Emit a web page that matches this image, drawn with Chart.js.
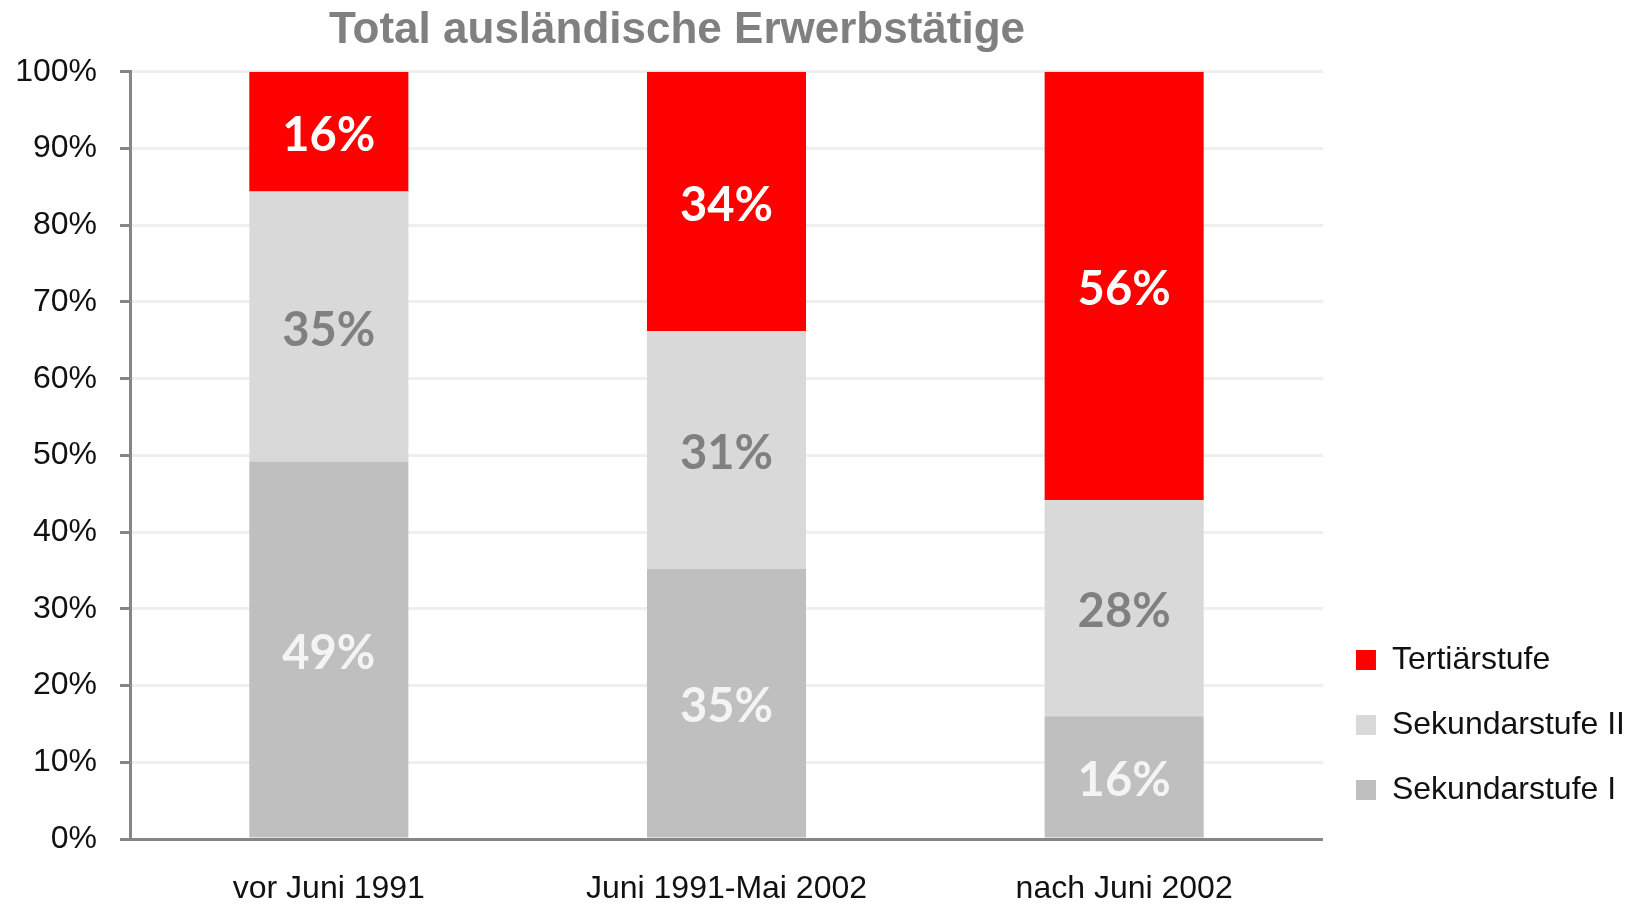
<!DOCTYPE html>
<html>
<head>
<meta charset="utf-8">
<script src="https://cdn.jsdelivr.net/npm/chart.js@4"></script>
<style>
html,body{margin:0;padding:0;background:#fff;}
#wrap{width:1633px;height:908px;}
</style>
</head>
<body>
<div id="wrap"><canvas id="c" width="1633" height="908"></canvas></div>
<script>
const categories = ['vor Juni 1991', 'Juni 1991-Mai 2002', 'nach Juni 2002'];
const sekundarstufeI = [49.2, 35.2, 16.0];
const sekundarstufeII = [35.2, 31.0, 28.2];
const tertiaerstufe = [15.6, 33.8, 55.8];
const yTicks = [0, 10, 20, 30, 40, 50, 60, 70, 80, 90, 100];
const seriesNames = ['Sekundarstufe I', 'Sekundarstufe II', 'Tertiärstufe'];

const FONT = '"Liberation Sans", Arial, sans-serif';
Chart.defaults.font.family = FONT;
Chart.defaults.color = '#111';

const labelColors = ['#f4f4f4', '#808080', '#ffffff'];

const dataLabels = {
  id: 'dataLabels',
  afterDatasetsDraw(chart) {
    const ctx = chart.ctx;
    ctx.save();
    ctx.font = 'bold 47px Lato, "Open Sans", sans-serif';
    ctx.textAlign = 'center';
    ctx.textBaseline = 'middle';
    chart.data.datasets.forEach((ds, di) => {
      const meta = chart.getDatasetMeta(di);
      meta.data.forEach((el, i) => {
        const v = ds.data[i];
        const cy = (el.y + el.base) / 2 + 4;
        ctx.fillStyle = labelColors[di];
        ctx.fillText(Math.round(v) + '%', el.x, cy);
      });
    });
    ctx.restore();
  }
};

const titleShift = {
  id: 'titleShift',
  afterLayout(chart) {
    const tb = chart.titleBlock;
    if (!tb) return;
    const off = 677 - (tb.left + tb.right) / 2;
    tb.left += off;
    tb.right += off;
  }
};

new Chart(document.getElementById('c'), {
  type: 'bar',
  data: {
    labels: categories,
    datasets: [
      { label: seriesNames[0], data: sekundarstufeI, backgroundColor: '#bfbfbf' },
      { label: seriesNames[1], data: sekundarstufeII, backgroundColor: '#d9d9d9' },
      { label: seriesNames[2], data: tertiaerstufe, backgroundColor: '#ff0000' }
    ]
  },
  options: {
    responsive: false,
    animation: false,
    layout: { padding: { left: 0, right: -2, top: 0, bottom: 0 } },
    datasets: { bar: { categoryPercentage: 1.0, barPercentage: 0.4 } },
    plugins: {
      title: {
        display: true,
        text: 'Total ausländische Erwerbstätige',
        color: '#808080',
        font: { family: FONT, size: 44, weight: 'bold', lineHeight: 1.2 },
        padding: { top: 4, bottom: 15 }
      },
      legend: {
        position: 'right',
        align: 'end',
        fullSize: false,
        reverse: true,
        labels: {
          boxWidth: 20,
          boxHeight: 20,
          padding: 33,
          color: '#111',
          font: { size: 32, family: FONT }
        }
      },
      tooltip: { enabled: false }
    },
    scales: {
      x: {
        stacked: true,
        grid: { display: false, drawTicks: false },
        border: { display: true, color: '#868686', width: 3 },
        ticks: { padding: 31, color: '#111', font: { size: 32, family: FONT } },
        afterFit(scale) { scale.height = 69; }
      },
      y: {
        stacked: true,
        min: 0,
        max: 100,
        afterBuildTicks(scale) { scale.ticks = yTicks.map(v => ({ value: v })); },
        grid: { color: '#efefef', lineWidth: 3, tickColor: '#868686', tickWidth: 3, tickLength: 10 },
        border: { display: true, color: '#868686', width: 3 },
        ticks: { padding: 23, color: '#111', font: { size: 32, family: FONT }, callback: v => v + '%' },
        afterFit(scale) { scale.width = 130; }
      }
    }
  },
  plugins: [dataLabels, titleShift]
});
</script>
</body>
</html>
